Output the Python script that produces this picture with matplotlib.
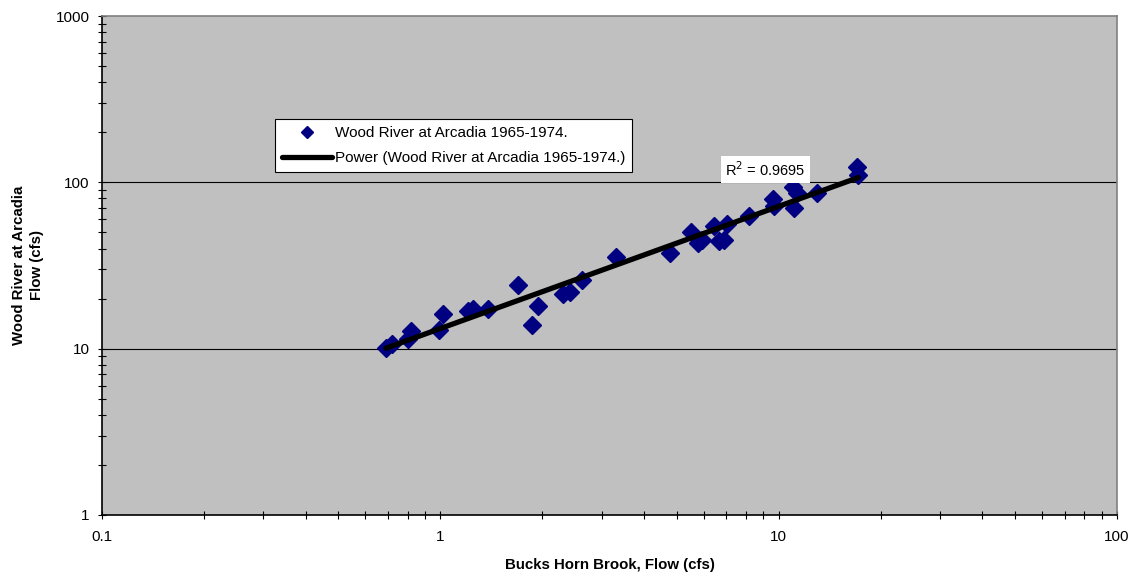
import numpy as np
import matplotlib
matplotlib.use("Agg")
import matplotlib.pyplot as plt
from matplotlib.ticker import LogLocator, FixedLocator, FixedFormatter, NullFormatter

plt.rcParams['font.family'] = ['Liberation Sans', 'DejaVu Sans']

# Data (cfs)
bucks_horn = [0.69, 0.72, 0.80, 0.82, 0.99, 1.02, 1.21, 1.25, 1.38, 1.70, 1.86, 1.94,
              2.30, 2.41, 2.63, 3.30, 4.76, 5.50, 5.76, 5.95, 6.45, 6.65, 6.90, 7.05,
              8.15, 9.60, 9.70, 11.0, 11.1, 11.3, 13.0, 17.1, 17.2]
wood_river = [10.1, 10.6, 11.5, 12.7, 13.0, 16.2, 16.8, 17.2, 17.3, 24.0, 13.9, 18.0,
              21.3, 21.9, 26.0, 35.6, 37.4, 50.0, 43.0, 45.0, 55.0, 44.2, 44.7, 56.5,
              63.0, 79.0, 72.0, 94.0, 70.0, 86.0, 86.0, 124.0, 110.0]

series_label = "Wood River at Arcadia 1965-1974."
trend_label = "Power (Wood River at Arcadia 1965-1974.)"
x_title = "Bucks Horn Brook, Flow (cfs)"
y_title = "Wood River at Arcadia\nFlow (cfs)"
x_ticks = [0.1, 1, 10, 100]
x_ticklabels = ["0.1", "1", "10", "100"]
y_ticks = [1, 10, 100, 1000]
y_ticklabels = ["1", "10", "100", "1000"]

fig = plt.figure(figsize=(11.35, 5.77), dpi=100)
ax = fig.add_axes([102/1135, 1 - 515/577, (1117-102)/1135, (515-16)/577])
ax.set_facecolor('#C0C0C0')
ax.set_xscale('log')
ax.set_yscale('log')
ax.set_xlim(0.1, 100)
ax.set_ylim(1, 1000)

# horizontal gridlines at majors
for yv in y_ticks[1:-1]:
    ax.axhline(yv, color='black', linewidth=0.8, zorder=1)

xs = np.array(bucks_horn)
ys = np.array(wood_river)
ax.plot(xs, ys, linestyle='none', marker='D', markersize=9, color='#000080',
        markeredgecolor='#000080', zorder=3, label=series_label)

# power trendline
b, loga = np.polyfit(np.log(xs), np.log(ys), 1)
xl = np.array([xs.min(), xs.max()])
ax.plot(xl, np.exp(loga) * xl ** b, color='black', linewidth=3.8, zorder=4,
        solid_capstyle='round', label=trend_label)

ax.text(0.614, 0.692, r"R$^2$ = 0.9695", transform=ax.transAxes, fontsize=10.5,
        ha='left', va='center', zorder=5,
        bbox=dict(facecolor='white', edgecolor='none', pad=3))

ax.xaxis.set_major_locator(FixedLocator(x_ticks))
ax.xaxis.set_major_formatter(FixedFormatter(x_ticklabels))
ax.yaxis.set_major_locator(FixedLocator(y_ticks))
ax.yaxis.set_major_formatter(FixedFormatter(y_ticklabels))
ax.xaxis.set_minor_locator(LogLocator(base=10, subs=np.arange(2, 10)))
ax.yaxis.set_minor_locator(LogLocator(base=10, subs=np.arange(2, 10)))
ax.xaxis.set_minor_formatter(NullFormatter())
ax.yaxis.set_minor_formatter(NullFormatter())
ax.tick_params(which='both', direction='inout', length=6, width=0.8, color='black',
               labelsize=11)
ax.tick_params(axis='x', which='both', pad=8)
ax.tick_params(axis='y', which='both', pad=6)
ax.tick_params(top=False, right=False, which='both')

for side in ['top', 'right']:
    ax.spines[side].set_color('#808080')
    ax.spines[side].set_linewidth(1.2)
for side in ['left', 'bottom']:
    ax.spines[side].set_color('black')
    ax.spines[side].set_linewidth(1.2)

ax.set_xlabel(x_title, fontsize=10.8, fontweight='bold', labelpad=10)
fig.text(28/1135, 1 - 265/577, y_title, rotation=90, ha='center', va='center',
         fontsize=10.8, fontweight='bold', linespacing=1.45, multialignment='center')

leg = ax.legend(loc='upper left', bbox_to_anchor=((275-102)/1015, (515-119)/499),
                frameon=True, fancybox=False, framealpha=1, edgecolor='black',
                fontsize=11, handlelength=3.3, handletextpad=0.15, borderpad=0.45,
                labelspacing=0.75, markerscale=0.7, borderaxespad=0)
leg.get_frame().set_linewidth(0.8)

fig.savefig('out.png', dpi=100)
